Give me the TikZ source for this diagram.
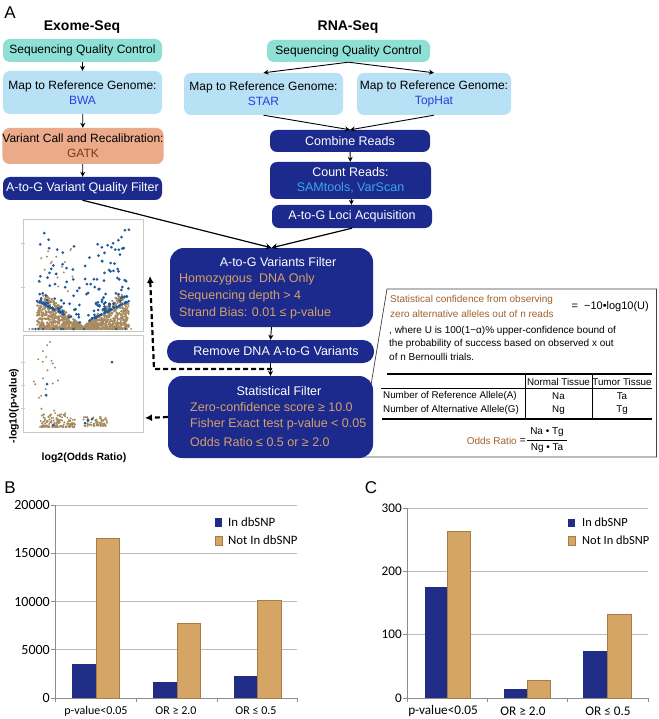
\documentclass[tikz,border=0pt]{standalone}
\usepackage{fontspec}
\setmainfont{Liberation Sans}
\newfontfamily\chartfont{Carlito}
\usetikzlibrary{arrows.meta}
\definecolor{tealbox}{HTML}{8EE0D4}
\definecolor{lbluebox}{HTML}{B9E1F5}
\definecolor{salmonbox}{HTML}{EBAB8B}
\definecolor{navybox}{HTML}{1B2A8C}
\definecolor{tooltxt}{HTML}{2A3FE0}
\definecolor{gatktxt}{HTML}{7A3A18}
\definecolor{tantxt}{HTML}{D6A06A}
\definecolor{calltxt}{HTML}{A0642E}
\definecolor{samtxt}{HTML}{3AA6EE}
\definecolor{barblue}{HTML}{1F2D86}
\definecolor{barbrown}{HTML}{D4A564}
\definecolor{barline}{HTML}{A87C44}
\definecolor{ptblue}{HTML}{1F5A9C}
\definecolor{ptbrown}{HTML}{A88A60}
\definecolor{gridc}{HTML}{BDBDBD}
\definecolor{axisc}{HTML}{8C8C8C}
\definecolor{framec}{HTML}{C8C8C8}
\begin{document}
\begin{tikzpicture}[x=1pt,y=-1pt,
  box/.style={rounded corners=7pt, inner sep=0pt, align=center, font=\fontsize{12}{15}\selectfont},
  navy/.style={box, fill=navybox, text=white, font=\fontsize{12.5}{15}\selectfont},
  bigbox/.style={rounded corners=14pt, fill=navybox, inner sep=0pt},
  boxtxt/.style={inner sep=0pt, font=\fontsize{12.5}{15}\selectfont},
  arr/.style={-{Stealth[length=5pt,width=5pt]}, line width=0.9pt},
  longarr/.style={-{Stealth[length=6pt,width=6pt]}, line width=1.2pt},
  dasharrow/.style={-{Latex[length=7pt,width=7pt]}, line width=2.2pt, dash pattern=on 5pt off 3pt},
  callline/.style={line width=0.7pt, draw=black!75},
  small/.style={inner sep=0pt, font=\fontsize{10}{12}\selectfont},
  tbl/.style={inner sep=0pt, font=\fontsize{9.8}{12}\selectfont},
  hdr/.style={inner sep=0pt, font=\fontsize{14}{16}\selectfont\bfseries},
  axlab/.style={inner sep=0pt, font=\fontsize{10.5}{12}\selectfont\bfseries},
  panel/.style={inner sep=0pt, font=\fontsize{17}{19}\selectfont},
  bars/.style={fill=barblue},
  barb/.style={fill=barbrown, draw=barline, line width=0.5pt},
  grid1/.style={draw=gridc, line width=0.6pt},
  axis1/.style={draw=axisc, line width=0.8pt},
]
\useasboundingbox (0,0) rectangle (658,719);
\fill[white] (0,0) rectangle (658,719);

% ---------- panel A ----------
\node[panel] (lblA) at (10,13) {A};
\node[hdr] (exome) at (82,27) {Exome-Seq};
\node[hdr] (rna) at (348,27) {RNA-Seq};

% Exome column
\node[box, fill=tealbox, minimum width=159pt, minimum height=23pt] (eqc) at (82.5,50.5) {Sequencing Quality Control};
\node[box, fill=lbluebox, minimum width=159pt, minimum height=43pt] (emap) at (82.5,92.5) {Map to Reference Genome:\\{\color{tooltxt}BWA}};
\node[box, fill=salmonbox, minimum width=160pt, minimum height=36pt] (evar) at (83,146) {Variant Call and Recalibration:\\{\color{gatktxt}GATK}};
\node[navy, minimum width=159pt, minimum height=23pt] (efilt) at (82.5,188.5) {A-to-G Variant Quality Filter};
\draw[arr] (eqc) -- (emap);
\draw[arr] (emap) -- (evar);
\draw[arr] (evar) -- (efilt);

% RNA column
\node[box, fill=tealbox, minimum width=163pt, minimum height=22pt] (rqc) at (348.5,51) {Sequencing Quality Control};
\node[box, fill=lbluebox, minimum width=159pt, minimum height=42pt] (rstar) at (263.5,94) {Map to Reference Genome:\\{\color{tooltxt}STAR}};
\node[box, fill=lbluebox, minimum width=154pt, minimum height=42pt] (rtop) at (434,94) {Map to Reference Genome:\\{\color{tooltxt}TopHat}};
\node[navy, minimum width=160pt, minimum height=22pt] (comb) at (350,141) {Combine Reads};
\node[navy, minimum width=161pt, minimum height=37pt] (count) at (350.5,180.5) {Count Reads:\\{\color{samtxt}SAMtools, VarScan}};
\node[navy, minimum width=160pt, minimum height=23pt] (loci) at (352,216.5) {A-to-G Loci Acquisition};
\draw[arr] (rqc.south) -- (rstar.north);
\draw[arr] (rqc.south) -- (rtop.north);
\draw[arr] (rstar.south) -- (comb.north);
\draw[arr] (rtop.south) -- (comb.north);
\draw[arr] (comb) -- (count);
\draw[arr] (count) -- (loci);

% callout frame (behind statistical filter)
\coordinate (cA) at (371,385);
\coordinate (cB) at (387,289);
\coordinate (cC) at (656.5,289);
\coordinate (cD) at (656.5,457);
\coordinate (cE) at (360,457);
\draw[callline] (cA) -- (cB) -- (cC) -- (cD) -- (cE);

% central filter boxes
\node[bigbox, minimum width=203pt, minimum height=79pt] (vf) at (271.5,287.5) {};
\node[boxtxt, text=white] (vft) at (278,262) {A-to-G Variants Filter};
\node[boxtxt, text=tantxt, anchor=west] (vf1) at (179,279) {Homozygous\ \ DNA Only};
\node[boxtxt, text=tantxt, anchor=west] (vf2) at (179,296) {Sequencing depth > 4};
\node[boxtxt, text=tantxt, anchor=west] (vf3) at (179,313) {Strand Bias: 0.01 ≤ p-value};
\node[navy, rounded corners=11pt, minimum width=207pt, minimum height=23pt] (rem) at (270.5,351.5) {\hspace*{11pt}Remove DNA A-to-G Variants};
\node[bigbox, minimum width=205pt, minimum height=82pt] (sf) at (270.5,417) {};
\node[boxtxt, text=white] (sft) at (279,391) {Statistical Filter};
\node[boxtxt, text=tantxt, anchor=west] (sf1) at (190,407) {Zero-confidence score ≥ 10.0};
\node[boxtxt, text=tantxt, anchor=west] (sf2) at (190,424) {Fisher Exact test p-value < 0.05};
\node[boxtxt, text=tantxt, anchor=west] (sf3) at (190,442) {Odds Ratio ≤ 0.5 or ≥ 2.0};

\draw[longarr] (efilt.south) -- (vf.north);
\draw[longarr] (loci.south) -- (vf.north);
\draw[arr] (vf.south) -- (rem.north);
\draw[arr] (rem.south) -- (sf.north);

% dashed arrows to plots
\coordinate (dstart) at (272,369);
\coordinate (dcorner) at (154,369);
\coordinate (dend) at (150,276);
\draw[dasharrow] (dstart) -- (dcorner) -- (dend);
\coordinate (d2end) at (145,418);
\draw[dasharrow] (sf.west) -- (d2end);

% callout text
\node[small, text=calltxt, anchor=west] (ct1) at (390,300) {Statistical confidence from observing};
\node[small, text=calltxt, anchor=west] (ct2) at (390,314) {zero alternative alleles out of n reads};
\node[inner sep=0pt, font=\fontsize{11}{13}\selectfont, anchor=east] (ct3) at (649,307) {=\ \ −10•log10(U)};
\node[small, anchor=west] (ct4) at (389,331) {, where U is 100(1−α)\% upper-confidence bound of};
\node[small, anchor=west] (ct5) at (389,344) {the probability of success based on observed x out};
\node[small, anchor=west] (ct6) at (389,357) {of n Bernoulli trials.};

% table
\draw[line width=1.4pt] (387,374) -- (652,374);
\draw[line width=0.6pt] (381,388.5) -- (652,388.5);
\draw[line width=1.4pt] (382,419) -- (652,419);
\draw[line width=0.6pt] (525,374) -- (525,419);
\draw[line width=0.6pt] (592,374) -- (592,419);
\node[tbl] (th1) at (558.5,382) {Normal Tissue};
\node[tbl] (th2) at (622,382) {Tumor Tissue};
\node[tbl, anchor=west] (tr1) at (383,396) {Number of Reference Allele(A)};
\node[tbl, anchor=west] (tr2) at (383,410) {Number of Alternative Allele(G)};
\node[tbl] (na) at (558.5,396) {Na};
\node[tbl] (ta) at (622,396) {Ta};
\node[tbl] (ng) at (558.5,410) {Ng};
\node[tbl] (tg) at (622,410) {Tg};
\node[small, text=calltxt, anchor=east] (orl) at (517,441) {Odds Ratio};
\node[small, anchor=east] (oreq) at (526,441) {=};
\draw[line width=0.6pt] (527,440) -- (567,440);
\node[small] (ornum) at (547,432.5) {Na • Tg};
\node[small] (orden) at (547,448) {Ng • Ta};

% ---------- scatter plots ----------
\draw[framec, line width=0.8pt] (23,219) rectangle (143,331);
\draw[framec, line width=0.8pt] (23,335) rectangle (143,432);
\foreach \yy in {243,287} \draw[framec] (21,\yy) -- (25,\yy);
\foreach \yy in {362,385,408} \draw[framec] (21,\yy) -- (25,\yy);
\pgfmathsetseed{4242}
% brown V-shaped mass
\foreach \i in {1,...,900}{
  \pgfmathsetmacro{\dd}{46*(2*rnd-1)}
  \pgfmathsetmacro{\env}{abs(\dd)<38 ? (2+0.9*abs(\dd)) : (36-1.2*(abs(\dd)-38))}
  \pgfmathsetmacro{\hh}{(rnd^1.1)*\env}
  \fill[ptbrown] ({83+\dd},{329-\hh}) circle (1.2);
}
\foreach \i in {1,...,18}{
  \pgfmathsetmacro{\dd}{-(10+34*rnd)}
  \pgfmathsetmacro{\hh}{36+45*rnd}
  \fill[ptbrown] ({83+\dd},{329-\hh}) circle (1.1);
}
% blue significant points
\foreach \i in {1,...,190}{
  \pgfmathsetmacro{\ss}{(rnd<0.42)?-1:1}
  \pgfmathsetmacro{\dd}{\ss*(2+44*rnd^0.8)}
  \pgfmathsetmacro{\hh}{min(103,0.5*abs(\dd)+5+75*rnd^3.2)}
  \fill[ptblue] ({83+\dd},{329-\hh}) circle (1.5);
}
\foreach \i in {1,...,250}{
  \pgfmathsetmacro{\dd}{44*(2*rnd-1)}
  \pgfmathsetmacro{\hh}{(rnd^3)*(1+0.5*abs(\dd))}
  \fill[ptbrown] ({83+\dd},{329-\hh}) circle (1.2);
}
\foreach \i in {1,...,25}{
  \fill[ptbrown] ({28+105*rnd},329) circle (1.0);
}
\foreach \i in {1,...,10}{
  \fill[ptblue] ({30+100*rnd},329) circle (1.3);
}
% lower plot
\foreach \i in {1,...,150}{
  \fill[ptbrown] ({40+35*rnd},{427-14*rnd^2.5}) circle (1.1);
}
\foreach \i in {1,...,20}{
  \fill[ptbrown] ({34+25*rnd},{345+70*rnd^1.5}) circle (1.1);
}
\foreach \i in {1,...,70}{
  \fill[ptbrown] ({83+24*rnd},{426-9*rnd^2}) circle (1.1);
}
\fill[ptbrown] (50,342) circle (1.1);
\foreach \p in {(47,384),(112,362),(88,420),(92,419),(53,425),(46,395),(85,423)}
  \fill[ptblue] \p circle (1.5);
\node[axlab, rotate=90] (ylab) at (14,406) {-log10(p-value)};
\node[axlab] (xlab) at (84,458) {log2(Odds Ratio)};

% ---------- panel B ----------
\node[panel] (lblB) at (10,488) {B};
\begin{scope}
\foreach \yy in {505,553.25,601.5,649.75} \draw[grid1] (55,\yy) -- (297,\yy);
\draw[axis1] (55,505) -- (55,698) -- (297,698);
\foreach \yy in {505,553.25,601.5,649.75,698} \draw[axis1] (51,\yy) -- (55,\yy);
\foreach \xx in {55,136,217,297} \draw[axis1] (\xx,698) -- (\xx,702);
\fill[bars] (72,698) rectangle (96,664.2);
\filldraw[barb] (96,698) rectangle (119,537.8);
\fill[bars] (153,698) rectangle (177,681.6);
\filldraw[barb] (177,698) rectangle (200,623.7);
\fill[bars] (234,698) rectangle (257,675.8);
\filldraw[barb] (257,698) rectangle (281,600.5);
\end{scope}
\begin{scope}[every node/.style={inner sep=0pt, font=\chartfont\fontsize{14}{16}\selectfont, anchor=east}]
\node (b20) at (50,505) {20000};
\node (b15) at (50,553.25) {15000};
\node (b10) at (50,601.5) {10000};
\node (b5) at (50,649.75) {5000};
\node (b0) at (50,698) {0};
\end{scope}
\begin{scope}[every node/.style={inner sep=0pt, font=\chartfont\fontsize{12}{14}\selectfont}]
\node (bc1) at (96,711) {p-value<0.05};
\node (bc2) at (176,711) {OR ≥ 2.0};
\node (bc3) at (256,711) {OR ≤ 0.5};
\end{scope}
\fill[bars] (215,518) rectangle (222,527);
\filldraw[barb] (215,536) rectangle (222,545);
\node[inner sep=0pt, font=\chartfont\fontsize{12.8}{14}\selectfont, anchor=west] (bl1) at (228,522.5) {In dbSNP};
\node[inner sep=0pt, font=\chartfont\fontsize{12.8}{14}\selectfont, anchor=west] (bl2) at (228,540.5) {Not In dbSNP};

% ---------- panel C ----------
\node[panel] (lblC) at (371,488) {C};
\begin{scope}
\foreach \yy in {508,571.3,634.7} \draw[grid1] (407,\yy) -- (648,\yy);
\draw[axis1] (407,508) -- (407,698) -- (648,698);
\foreach \yy in {508,571.3,634.7,698} \draw[axis1] (403,\yy) -- (407,\yy);
\foreach \xx in {407,487,567,648} \draw[axis1] (\xx,698) -- (\xx,702);
\fill[bars] (425,698) rectangle (447,587.2);
\filldraw[barb] (447,698) rectangle (470,530.8);
\fill[bars] (504,698) rectangle (527,688.5);
\filldraw[barb] (527,698) rectangle (550,680.3);
\fill[bars] (583,698) rectangle (607,650.5);
\filldraw[barb] (607,698) rectangle (631,614.4);
\end{scope}
\begin{scope}[every node/.style={inner sep=0pt, font=\chartfont\fontsize{13.2}{15}\selectfont, anchor=east}]
\node (c300) at (402,508) {300};
\node (c200) at (402,571.3) {200};
\node (c100) at (402,634.7) {100};
\node (c0) at (402,698) {0};
\end{scope}
\begin{scope}[every node/.style={inner sep=0pt, font=\chartfont\fontsize{13.2}{15}\selectfont}]
\node (cc1) at (443,711) {p-value<0.05};
\node (cc2) at (523,711) {OR ≥ 2.0};
\node (cc3) at (608,711) {OR ≤ 0.5};
\end{scope}
\fill[bars] (568,519) rectangle (575,527);
\filldraw[barb] (568,536) rectangle (575,545);
\node[inner sep=0pt, font=\chartfont\fontsize{12.4}{14}\selectfont, anchor=west] (cl1) at (582,522.5) {In dbSNP};
\node[inner sep=0pt, font=\chartfont\fontsize{12.4}{14}\selectfont, anchor=west] (cl2) at (582,540.5) {Not In dbSNP};
\end{tikzpicture}
\end{document}
